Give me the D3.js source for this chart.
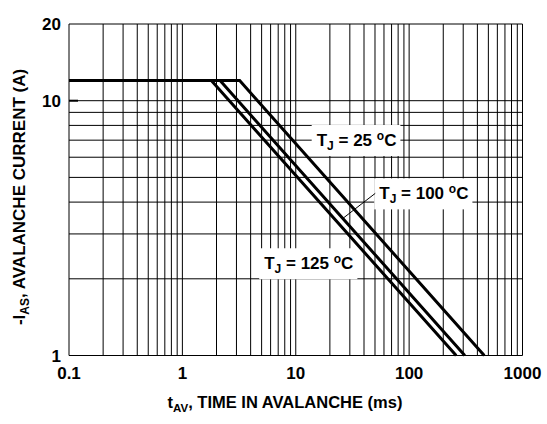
<!DOCTYPE html>
<html>
<head>
<meta charset="utf-8">
<script src="https://cdn.jsdelivr.net/npm/d3@7"></script>
<style>
  body { margin: 0; background: #fff; }
  svg text { font-family: "Liberation Sans", Arial, sans-serif; font-weight: bold; fill: #000; }
</style>
</head>
<body>
<svg id="chart" width="547" height="424"></svg>
<script>
// avalanche current vs time in avalanche, three junction temps
const xTickLabels = [0.1, 1, 10, 100, 1000];
const yTickLabels = [1, 10, 20];

// [t (ms), I (A)] - flat at 12 A, then falls off as t^-0.5
const tj25 = [[0.1, 12], [3.2, 12], [460, 1]];
const tj100 = [[0.1, 12], [2.15, 12], [310, 1]];
const tj125 = [[0.1, 12], [1.8, 12], [260, 1]];

// label anchors in data space
const labels = [
  { t: 15.3, i: 6.64, temp: "25" },
  { t: 54.5, i: 4.10, temp: "100" },
  { t: 5.27, i: 2.18, temp: "125" }
];

const svg = d3.select("#chart");
const plotL = 69, plotR = 522.5, plotT = 24, plotB = 355.5;

const x = d3.scaleLog().domain([0.1, 1000]).range([plotL, plotR]);
const y = d3.scaleLog().domain([1, 20]).range([plotB, plotT]);

// grid: every 1..9 in each decade
let xGrid = [];
[0.1, 1, 10, 100].forEach(function(d) {
  for (let k = 1; k < 10; k++) xGrid.push(+(d * k).toPrecision(3));
});
xGrid.push(1000);
let yGrid = [];
for (let k = 1; k <= 10; k++) yGrid.push(k);
yGrid.push(20);

const grid = svg.append("g").attr("stroke", "#000").attr("stroke-width", 1);
grid.selectAll("line.v").data(xGrid).enter().append("line")
  .attr("class", "v")
  .attr("x1", function(d) { return x(d); }).attr("x2", function(d) { return x(d); })
  .attr("y1", plotT).attr("y2", plotB);
grid.selectAll("line.h").data(yGrid).enter().append("line")
  .attr("class", "h")
  .attr("y1", function(d) { return y(d); }).attr("y2", function(d) { return y(d); })
  .attr("x1", plotL).attr("x2", plotR);

// short major tick at 10 on the left edge
svg.append("line")
  .attr("x1", plotL).attr("x2", plotL + 9)
  .attr("y1", y(10)).attr("y2", y(10))
  .attr("stroke", "#000").attr("stroke-width", 2);

// tick labels
svg.append("g").selectAll("text").data(yTickLabels).enter().append("text")
  .attr("x", 61).attr("y", function(d) { return y(d); })
  .attr("dy", "0.36em")
  .attr("text-anchor", "end")
  .style("font-size", "17px")
  .text(function(d) { return d; });

svg.append("g").selectAll("text").data(xTickLabels).enter().append("text")
  .attr("x", function(d) { return x(d); }).attr("y", 379)
  .attr("text-anchor", "middle")
  .style("font-size", "17px")
  .text(function(d) { return d; });

// axis titles
const xt = svg.append("text")
  .attr("x", 285).attr("y", 408)
  .attr("text-anchor", "middle")
  .style("font-size", "16.5px");
xt.append("tspan").text("t");
xt.append("tspan").attr("dy", 4).style("font-size", "11.5px").text("AV");
xt.append("tspan").attr("dy", -4).text(", TIME IN AVALANCHE (ms)");

const yt = svg.append("text")
  .attr("transform", "translate(25," + 197 + ") rotate(-90)")
  .attr("text-anchor", "middle")
  .style("font-size", "17px");
yt.append("tspan").text("-I");
yt.append("tspan").attr("dy", 4).style("font-size", "12px").text("AS");
yt.append("tspan").attr("dy", -4).text(", AVALANCHE CURRENT (A)");

// curves
const line = d3.line()
  .x(function(d) { return x(d[0]); })
  .y(function(d) { return y(d[1]); });

svg.append("g").selectAll("path").data([tj25, tj100, tj125]).enter().append("path")
  .attr("d", line)
  .attr("fill", "none")
  .attr("stroke", "#000")
  .attr("stroke-width", 3)
  .attr("stroke-linejoin", "miter");

// labels with white box behind
const lab = svg.append("g").selectAll("g").data(labels).enter().append("g");
lab.each(function(d) {
  const g = d3.select(this);
  const bg = g.append("rect").attr("fill", "#fff");
  const t = g.append("text")
    .attr("x", x(d.t)).attr("y", y(d.i))
    .style("font-size", "17px");
  t.append("tspan").text("T");
  t.append("tspan").attr("dy", 4).style("font-size", "12px").text("J");
  t.append("tspan").attr("dy", -4).text(" = " + d.temp + " ");
  t.append("tspan").attr("dy", -6).style("font-size", "12px").text("o");
  t.append("tspan").attr("dy", 6).text("C");
  const bb = t.node().getBBox();
  bg.attr("x", bb.x - 5).attr("y", bb.y - 4)
    .attr("width", bb.width + 9).attr("height", bb.height + 7);
});

// leader from the 100 C label to its curve
const leadT = 26;
const leadI = 12 * Math.sqrt(tj100[1][0] / leadT);
svg.append("line")
  .attr("x1", x(labels[1].t) - 4).attr("y1", y(labels[1].i) - 6)
  .attr("x2", x(leadT)).attr("y2", y(leadI))
  .attr("stroke", "#000").attr("stroke-width", 1);
</script>
</body>
</html>
